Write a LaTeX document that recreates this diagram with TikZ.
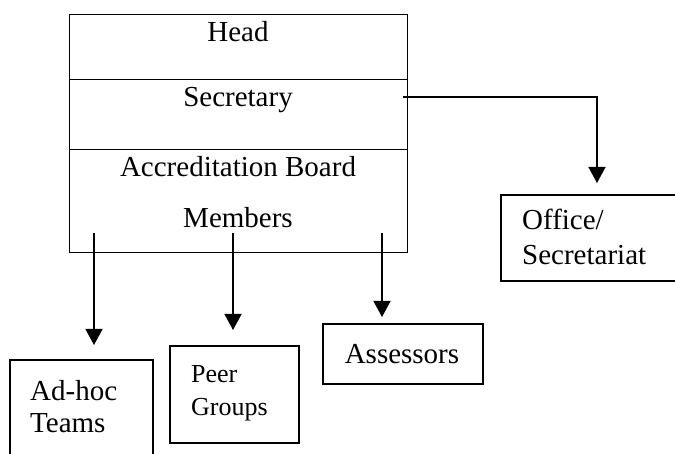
\documentclass[tikz,border=0pt]{standalone}
\usepackage{fontspec}
\setmainfont{Liberation Serif}
\usetikzlibrary{arrows.meta}
\begin{document}
\begin{tikzpicture}[x=1pt,y=-1pt,
  box/.style={draw, line width=1.6pt, inner sep=0pt, anchor=north west},
  sect/.style={draw, line width=1pt, inner sep=0pt, anchor=north west, minimum width=338pt},
  lbl/.style={anchor=base, inner sep=0pt, font=\fontsize{29}{29}\selectfont},
  lbll/.style={anchor=base west, inner sep=0pt, font=\fontsize{29}{29}\selectfont},
  lbls/.style={anchor=base west, inner sep=0pt, font=\fontsize{26}{26}\selectfont},
  arr/.style={line width=1.4pt, -{Triangle[length=16pt,width=17pt]}}]
\useasboundingbox (0,0) rectangle (675,454);
% main box
\node[sect, minimum height=65pt] (head) at (69,14) {};
\node[sect, minimum height=70pt] (sec) at (69,79) {};
\node[sect, minimum height=103pt] (mem) at (69,149) {};
\node[lbl] (thead) at (238,42) {Head};
\node[lbl] (tsec) at (238,107) {Secretary};
\node[lbl] (tacc) at (238,177) {Accreditation Board};
\node[lbl] (tmem) at (238,228) {Members};
% side and lower boxes
\node[box, minimum width=180pt, minimum height=86pt] (office) at (500,194) {};
\node[lbll] (toff1) at (522,230) {Office/};
\node[lbll] (toff2) at (522,265) {Secretariat};
\node[box, minimum width=143pt, minimum height=110pt] (adhoc) at (9,359) {};
\node[lbll] (tad1) at (30,400) {Ad-hoc};
\node[lbll] (tad2) at (30,432) {Teams};
\node[box, minimum width=129pt, minimum height=97pt] (peer) at (169,345) {};
\node[lbls] (tpeer1) at (191,382) {Peer};
\node[lbls] (tpeer2) at (191,415) {Groups};
\node[box, minimum width=160pt, minimum height=60pt] (assess) at (322,323) {};
\node[lbl] (tass) at (402,363) {Assessors};
% connectors
\coordinate (s1) at (403,97);
\coordinate (o1) at (597,183);
\draw[arr] (s1) -| (o1);
\coordinate (a1) at (94,233);
\coordinate (a2) at (233,233);
\coordinate (a3) at (382,233);
\draw[arr] (a1) -- ([yshift=14pt]adhoc.north -| a1);
\draw[arr] (a2) -- ([yshift=15pt]peer.north -| a2);
\draw[arr] (a3) -- ([yshift=6pt]assess.north -| a3);
\end{tikzpicture}
\end{document}
